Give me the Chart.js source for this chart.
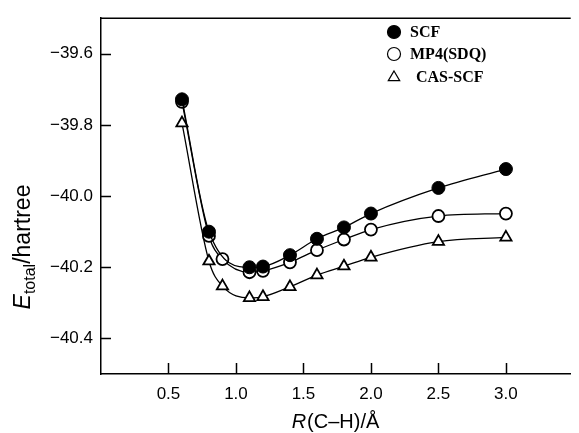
<!DOCTYPE html>
<html>
<head>
<meta charset="utf-8">
<script src="https://cdn.jsdelivr.net/npm/chart.js@4"></script>
<style>
  html, body { margin: 0; padding: 0; background: #fff; overflow: hidden; }
  #wrap { width: 579px; height: 433px; }
</style>
</head>
<body>
<div id="wrap"><canvas id="energyChart" width="579" height="433"></canvas></div>
<script>
// bond length R(C-H) in angstrom
const scfR = [0.6, 0.8, 1.1, 1.2, 1.4, 1.6, 1.8, 2.0, 2.5, 3.0];
const mp4R = [0.6, 0.8, 0.9, 1.1, 1.2, 1.4, 1.6, 1.8, 2.0, 2.5, 3.0];
const casR = [0.6, 0.8, 0.9, 1.1, 1.2, 1.4, 1.6, 1.8, 2.0, 2.5, 3.0];

// total energies in hartree
const scfEnergy = [-39.728, -40.100, -40.200, -40.198, -40.166, -40.120, -40.088, -40.049, -39.977, -39.924];
const mp4Energy = [-39.735, -40.112, -40.177, -40.214, -40.210, -40.186, -40.152, -40.122, -40.094, -40.056, -40.049];
const casEnergy = [-39.795, -40.183, -40.253, -40.286, -40.283, -40.255, -40.222, -40.197, -40.172, -40.128, -40.116];

const xTicks = [0.5, 1.0, 1.5, 2.0, 2.5, 3.0];
const yTicks = [-39.6, -39.8, -40.0, -40.2, -40.4];
const seriesNames = ["SCF", "MP4(SDQ)", "CAS-SCF"];

const toPoints = (xs, ys) => xs.map((x, i) => ({ x: x, y: ys[i] }));

const sansFont = "'Liberation Sans', Arial, sans-serif";

// draws frame top, inward ticks, axis titles and the legend
const decorPlugin = {
  id: "decor",
  afterDraw(chart) {
    const ctx = chart.ctx;
    const area = chart.chartArea;
    const xs = chart.scales.x;
    const ys = chart.scales.y;
    ctx.save();
    ctx.strokeStyle = "#000";
    ctx.lineWidth = 1.5;

    // top frame line
    ctx.beginPath();
    ctx.moveTo(area.left, area.top);
    ctx.lineTo(area.right, area.top);
    ctx.stroke();

    // inward tick marks
    ctx.beginPath();
    yTicks.forEach((v) => {
      const py = Math.round(ys.getPixelForValue(v)) + 0.5;
      ctx.moveTo(area.left, py);
      ctx.lineTo(area.left + 10, py);
    });
    xTicks.forEach((v) => {
      const px = Math.round(xs.getPixelForValue(v)) + 0.5;
      ctx.moveTo(px, area.bottom);
      ctx.lineTo(px, area.bottom - 11);
    });
    ctx.stroke();

    ctx.fillStyle = "#000";
    ctx.textBaseline = "alphabetic";

    // y axis title: E_total/hartree
    ctx.save();
    ctx.translate(30, 247);
    ctx.rotate(-Math.PI / 2);
    const big = "23px " + sansFont;
    const bigIt = "italic 23px " + sansFont;
    const small = "16px " + sansFont;
    ctx.font = bigIt;
    const wE = ctx.measureText("E").width;
    ctx.font = small;
    const wSub = ctx.measureText("total").width;
    ctx.font = big;
    const wRest = ctx.measureText("/hartree").width;
    let cx = -(wE + wSub + wRest) / 2;
    ctx.font = bigIt;
    ctx.fillText("E", cx, 0);
    cx += wE;
    ctx.font = small;
    ctx.fillText("total", cx, 5);
    cx += wSub;
    ctx.font = big;
    ctx.fillText("/hartree", cx, 0);
    ctx.restore();

    // x axis title: R(C–H)/Å
    const xBig = "20px " + sansFont;
    const xBigIt = "italic 20px " + sansFont;
    ctx.font = xBigIt;
    const wR = ctx.measureText("R").width;
    ctx.font = xBig;
    const wTail = ctx.measureText("(C\u2013H)/\u00c5").width;
    let tx = 335 - (wR + wTail) / 2;
    ctx.font = xBigIt;
    ctx.fillText("R", tx, 428);
    ctx.font = xBig;
    ctx.fillText("(C\u2013H)/\u00c5", tx + wR + 1, 428);

    // legend
    const rows = [32, 54, 77];
    const textX = [410, 410, 416];
    ctx.lineWidth = 1.2;
    chart.data.datasets.forEach((ds, i) => {
      const sy = rows[i];
      const sx = 394;
      ctx.beginPath();
      if (ds.pointStyle === "triangle") {
        const r = 6;
        ctx.moveTo(sx, sy - r);
        ctx.lineTo(sx + r * 0.95, sy + r * 0.6);
        ctx.lineTo(sx - r * 0.95, sy + r * 0.6);
        ctx.closePath();
      } else {
        ctx.arc(sx, sy, 6.5, 0, Math.PI * 2);
      }
      ctx.fillStyle = ds.pointBackgroundColor;
      ctx.fill();
      ctx.stroke();
      ctx.fillStyle = "#000";
      ctx.font = "bold 16px 'Liberation Serif', 'Times New Roman', serif";
      ctx.textBaseline = "middle";
      ctx.fillText(seriesNames[i], textX[i], sy + 1);
    });
    ctx.restore();
  },
};

const lineStyle = {
  borderColor: "#000",
  borderWidth: 1.3,
  cubicInterpolationMode: "monotone",
  fill: false,
  pointBorderColor: "#000",
};

new Chart(document.getElementById("energyChart").getContext("2d"), {
  type: "scatter",
  data: {
    datasets: [
      {
        ...lineStyle,
        label: seriesNames[0],
        data: toPoints(scfR, scfEnergy),
        showLine: true,
        pointStyle: "circle",
        pointRadius: 6.5,
        pointBackgroundColor: "#000",
        pointBorderWidth: 1,
      },
      {
        ...lineStyle,
        label: seriesNames[1],
        data: toPoints(mp4R, mp4Energy),
        showLine: true,
        pointStyle: "circle",
        pointRadius: 6,
        pointBackgroundColor: "#fff",
        pointBorderWidth: 1.8,
      },
      {
        ...lineStyle,
        label: seriesNames[2],
        data: toPoints(casR, casEnergy),
        showLine: true,
        pointStyle: "triangle",
        pointRadius: 6.5,
        pointBackgroundColor: "#fff",
        pointBorderWidth: 1.8,
      },
    ],
  },
  options: {
    responsive: false,
    animation: false,
    devicePixelRatio: 1,
    layout: { padding: { top: 15, left: 0, right: 0, bottom: 0 } },
    plugins: {
      legend: { display: false },
      tooltip: { enabled: false },
    },
    scales: {
      x: {
        type: "linear",
        min: 0,
        max: 3.48,
        grid: { display: false, drawTicks: false },
        border: { display: true, color: "#000", width: 1.5 },
        afterBuildTicks: (s) => { s.ticks = xTicks.map((v) => ({ value: v })); },
        afterFit: (s) => { s.height = 59; },
        ticks: {
          color: "#000",
          padding: 10,
          maxRotation: 0,
          font: { family: sansFont, size: 17 },
          callback: (v) => v.toFixed(1),
        },
      },
      y: {
        min: -40.5,
        max: -39.5,
        grid: { display: false, drawTicks: false },
        border: { display: true, color: "#000", width: 1.5 },
        afterBuildTicks: (s) => { s.ticks = yTicks.map((v) => ({ value: v })); },
        afterFit: (s) => { s.width = 101; },
        ticks: {
          color: "#000",
          padding: 8,
          font: { family: sansFont, size: 17 },
          callback: (v) => "\u2212" + Math.abs(v).toFixed(1),
        },
      },
    },
  },
  plugins: [decorPlugin],
});
</script>
</body>
</html>
